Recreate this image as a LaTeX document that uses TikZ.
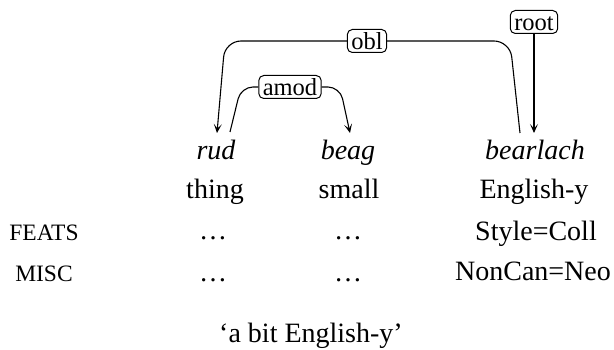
\documentclass[tikz,border=0pt]{standalone}
\usepackage{fontspec}
\setmainfont{Liberation Serif}
\usetikzlibrary{arrows.meta,calc}
\begin{document}
\begin{tikzpicture}[x=1pt,y=-1pt,
 word/.style={anchor=base,inner sep=0pt,font=\fontsize{28}{32}\selectfont},
 iword/.style={anchor=base,inner sep=0pt,font=\fontsize{28}{32}\selectfont\itshape},
 feat/.style={anchor=base,inner sep=0pt,font=\fontsize{23.5}{28}\selectfont},
 deplabel/.style={draw,rounded corners=5pt,fill=white,line width=1pt,inner xsep=4pt,inner ysep=3pt,text height=17pt,text depth=0pt,font=\fontsize{24.5}{28}\selectfont},
 dep/.style={line width=1.1pt,rounded corners=16pt},
 arr/.style={-{Stealth[length=9pt,width=8pt,inset=4.5pt]}}
]
\useasboundingbox (0,0) rectangle (614,350);
% words
\node[iword] (rud) at (216,160) {rud};
\node[iword] (beag) at (348,160) {beag};
\node[iword] (bearlach) at (535,160) {bearlach};
\node[word] (thing) at (215,199) {thing};
\node[word] (small) at (349,199) {small};
\node[word] (englishy) at (534,199) {English-y};
\node[feat] (feats) at (44,241) {FEATS};
\node[word] (d1) at (213,240) {\textellipsis};
\node[word] (d2) at (348,240) {\textellipsis};
\node[word] (style) at (536,241) {Style=Coll};
\node[feat] (misc) at (44,281) {MISC};
\node[word] (d3) at (213,281) {\textellipsis};
\node[word] (d4) at (348,281) {\textellipsis};
\node[word] (noncan) at (533,280) {NonCan=Neo};
\node[word] (gloss) at (311,342) {‘a bit English-y’};
% labels
\node[deplabel] (obl) at (367,41) {obl};
\node[deplabel] (amod) at (290,87) {amod};
\node[deplabel] (root) at (534,22) {root};
% connector end points
\coordinate (oblfrom) at ($(bearlach.base)+(-15,-27)$);
\coordinate (oblcx1) at ($(bearlach.base)+(-25,0)$);
\coordinate (oblcx2) at ($(rud.base)+(9,0)$);
\coordinate (oblto) at ($(rud.base)+(1,-27)$);
\coordinate (amodfrom) at ($(rud.base)+(14,-28)$);
\coordinate (amodcx1) at ($(rud.base)+(25,0)$);
\coordinate (amodcx2) at ($(beag.base)+(-8,0)$);
\coordinate (amodto) at ($(beag.base)+(2,-27)$);
\coordinate (rootto) at ($(bearlach.base)+(-1,-27)$);
% connectors
\draw[dep] (oblfrom) -- (oblcx1 |- obl.east) -- (obl.east);
\draw[dep,arr] (obl.west) -- (oblcx2 |- obl.west) -- (oblto);
\draw[dep,rounded corners=12pt] (amodfrom) -- (amodcx1 |- amod.west) -- (amod.west);
\draw[dep,rounded corners=12pt,arr] (amod.east) -- (amodcx2 |- amod.east) -- (amodto);
\draw[dep,arr] (root.south) -- (rootto);
\end{tikzpicture}
\end{document}
